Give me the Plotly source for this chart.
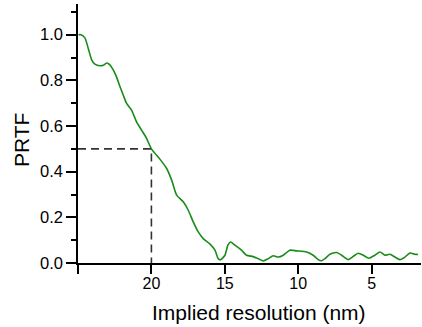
import plotly.graph_objects as go

# Implied resolution (nm) and PRTF values
resolution_nm = [24.97, 24.80, 24.53, 24.31, 24.07, 23.85, 23.51, 23.28, 23.05, 22.83,
                 22.60, 22.37, 22.15, 21.92, 21.69, 21.35, 21.01, 20.67, 20.33, 20.00,
                 19.42, 18.96, 18.62, 18.28, 17.83, 17.49, 17.15, 16.81, 16.47, 16.02,
                 15.67, 15.45, 15.29, 14.99, 14.79, 14.61, 14.31, 13.86, 13.52, 13.07,
                 12.72, 12.38, 12.04, 11.70, 11.36, 11.02, 10.57, 10.11, 9.43, 8.98,
                 8.64, 8.41, 8.18, 7.84, 7.38, 7.04, 6.59, 6.25, 5.91, 5.57,
                 5.18, 4.78, 4.43, 4.09, 3.75, 3.41, 3.07, 2.73, 2.39, 2.05, 1.83]
prtf = [1.000, 1.000, 0.986, 0.942, 0.890, 0.871, 0.864, 0.866, 0.876, 0.868,
        0.846, 0.814, 0.774, 0.736, 0.699, 0.670, 0.618, 0.582, 0.546, 0.500,
        0.455, 0.414, 0.363, 0.297, 0.268, 0.231, 0.180, 0.136, 0.107, 0.084,
        0.056, 0.019, 0.014, 0.034, 0.078, 0.092, 0.078, 0.056, 0.034, 0.028,
        0.019, 0.009, 0.019, 0.032, 0.026, 0.034, 0.056, 0.053, 0.048, 0.034,
        0.015, 0.010, 0.019, 0.038, 0.046, 0.034, 0.015, 0.029, 0.043, 0.034,
        0.021, 0.034, 0.048, 0.034, 0.038, 0.026, 0.015, 0.026, 0.044, 0.038, 0.037]

# Half-PRTF marker (dashed guide)
guide_x = [25, 20, 20]
guide_y = [0.5, 0.5, 0.0]

x_tickvals = [25, 20, 15, 10, 5]
x_ticktext = ["", "20", "15", "10", "5"]
y_tickvals = [0.0, 0.2, 0.4, 0.6, 0.8, 1.0]
y_ticktext = ["0.0", "0.2", "0.4", "0.6", "0.8", "1.0"]

FONT = "Liberation Sans, Arial, Helvetica, sans-serif"

fig = go.Figure()
fig.add_trace(go.Scatter(x=guide_x, y=guide_y, mode="lines",
                         line=dict(color="#333333", width=1.6, dash="8px,5px"),
                         hoverinfo="skip", showlegend=False))
fig.add_trace(go.Scatter(x=resolution_nm, y=prtf, mode="lines",
                         line=dict(color="rgb(24,140,24)", width=1.6, shape="spline", smoothing=0.6),
                         showlegend=False))

fig.update_layout(
    width=422, height=327,
    margin=dict(l=78, r=1, t=4, b=64),
    paper_bgcolor="white", plot_bgcolor="white",
    font=dict(family=FONT, size=16, color="black"),
    xaxis=dict(range=[25, 1.635], tickvals=x_tickvals, ticktext=x_ticktext,
               ticks="outside", ticklen=9, tickwidth=1.5, tickcolor="black",
               ticklabelstandoff=-4,
               showline=True, linecolor="black", linewidth=1.5,
               showgrid=False, zeroline=False, tickfont=dict(size=16)),
    yaxis=dict(range=[0, 1.1345], tickvals=y_tickvals, ticktext=y_ticktext,
               ticks="outside", ticklen=10, tickwidth=1.5, tickcolor="black",
               minor=dict(dtick=0.1, tick0=0.1, ticks="outside", ticklen=5,
                          tickwidth=1.5, tickcolor="black", showgrid=False),
               showline=True, linecolor="black", linewidth=1.5,
               showgrid=False, zeroline=False, tickfont=dict(size=16.5)),
    annotations=[
        dict(text="Implied resolution (nm)", xref="paper", yref="paper",
             x=(259 - 78) / 343, y=-(312 - 263) / 259, xanchor="center", yanchor="middle",
             showarrow=False, font=dict(size=21, family=FONT)),
        dict(text="PRTF", xref="paper", yref="paper", textangle=-90,
             x=-(78 - 21.5) / 343, y=(263 - 140.5) / 259, xanchor="center", yanchor="middle",
             showarrow=False, font=dict(size=21, family=FONT)),
    ],
)

fig.write_html("out.html")
